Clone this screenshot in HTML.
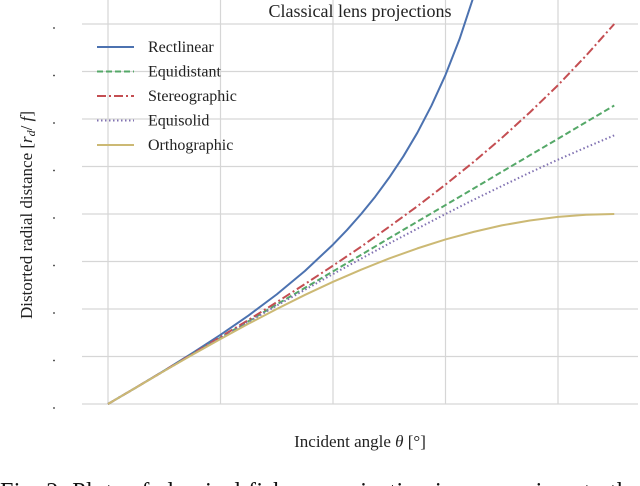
<!DOCTYPE html>
<html><head><meta charset="utf-8"><style>
html,body{margin:0;padding:0;background:#fff;}
body{width:640px;height:486px;overflow:hidden;position:relative;font-family:"Liberation Serif",serif;}
svg{position:absolute;left:0;top:0;}
</style></head><body>
<svg id="chart" width="640" height="486" viewBox="0 0 640 486" font-family="Liberation Serif, serif">
  <g id="grid"></g>
  <g id="ticks"></g>
  <g id="series"></g>
  <text x="360" y="17" font-size="18" text-anchor="middle" fill="#222">Classical lens projections</text>
  <text x="360" y="447" font-size="17" text-anchor="middle" fill="#222">Incident angle <tspan font-style="italic">θ</tspan> [°]</text>
  <text transform="translate(32,215) rotate(-90)" font-size="17" text-anchor="middle" fill="#222">Distorted radial distance [<tspan font-style="italic">r<tspan font-size="12" dy="3">d</tspan></tspan><tspan dy="-3">/</tspan> <tspan font-style="italic">f</tspan>]</text>
  <g id="legend"></g>
  <text x="0" y="499" font-size="24" fill="#111" textLength="640" lengthAdjust="spacing">Fig. 2:  Plots of classical fisheye projection in comparison to the</text>
</svg>
<script>
const thetas = [0,5,10,15,20,25,30,35,40,45,50,55,60,65,70,75,80,85,90];
const rectThetas = [0,5,10,15,20,25,30,35,40,42.5,45,47.5,50,52.5,55,57.5,60,62.5,65,67.5,70];
const rectilinear = [0,0.087,0.176,0.268,0.364,0.466,0.577,0.700,0.839,0.916,1.000,1.091,1.192,1.303,1.428,1.570,1.732,1.921,2.145,2.414,2.747];
const equidistant = [0,0.087,0.175,0.262,0.349,0.436,0.524,0.611,0.698,0.785,0.873,0.960,1.047,1.134,1.222,1.309,1.396,1.484,1.571];
const stereographic = [0,0.087,0.175,0.263,0.353,0.443,0.536,0.631,0.728,0.828,0.933,1.041,1.155,1.274,1.400,1.535,1.678,1.834,2.000];
const equisolid = [0,0.087,0.174,0.261,0.347,0.433,0.518,0.601,0.684,0.765,0.845,0.923,1.000,1.075,1.147,1.218,1.286,1.351,1.414];
const orthographic = [0,0.087,0.174,0.259,0.342,0.423,0.500,0.574,0.643,0.707,0.766,0.819,0.866,0.906,0.940,0.966,0.985,0.996,1.000];
const yTicks = [0,0.25,0.5,0.75,1,1.25,1.5,1.75,2];
const xTicks = [0,20,40,60,80];
const seriesNames = ["Rectlinear","Equidistant","Stereographic","Equisolid","Orthographic"];

const NS="http://www.w3.org/2000/svg";
const xS = t => 108 + t*5.625;
const yS = v => 404 - v*190;
function mk(tag, attrs, parent){const e=document.createElementNS(NS,tag);for(const k in attrs)e.setAttribute(k,attrs[k]);parent.appendChild(e);return e;}

const grid=document.getElementById('grid');
yTicks.forEach(v=>{
  const l=mk('line',{x1:82,x2:638,y1:yS(v),y2:yS(v),stroke:'#d6d6d6','stroke-width':1.2},grid);
  
  
  const d=mk('circle',{cx:54,cy:yS(v)+4,r:0.9,fill:'#333'},document.getElementById('ticks'));
  
  
});
xTicks.forEach(t=>{
  const l=mk('line',{x1:xS(t),x2:xS(t),y1:yS(2.2),y2:yS(0),stroke:'#d6d6d6','stroke-width':1.2},grid);
  
  
});

const styles=[
  {c:'#4c72b0',d:''},
  {c:'#55a868',d:'6,3'},
  {c:'#c44e52',d:'9,3,2,3'},
  {c:'#8172b2',d:'1.5,2.5'},
  {c:'#ccb974',d:''}
];
const data=[rectilinear,equidistant,stereographic,equisolid,orthographic];
const xsets=[rectThetas,thetas,thetas,thetas,thetas];
const sg=document.getElementById('series');
const clip=mk('clipPath',{id:'plotclip'},sg);
mk('rect',{x:0,y:0,width:640,height:420},clip);
data.forEach((arr,i)=>{
  const pts=arr.map((v,j)=>xS(xsets[i][j]).toFixed(2)+','+yS(v).toFixed(2)).join(' ');
  const p=mk('polyline',{points:pts,fill:'none',stroke:styles[i].c,'stroke-width':2,'stroke-dasharray':styles[i].d,'stroke-linejoin':'round','clip-path':'url(#plotclip)'},sg);
  
  
});

const lg=document.getElementById('legend');
seriesNames.forEach((n,i)=>{
  const y=47+i*24.5;
  const g=mk('g',{},lg);
  
  
  mk('line',{x1:97,x2:134,y1:y,y2:y,stroke:styles[i].c,'stroke-width':2,'stroke-dasharray':styles[i].d},g);
  const t=mk('text',{x:148,y:y+5,'font-size':16,fill:'#222'},g);
  t.textContent=n;
});
</script>
</body></html>
